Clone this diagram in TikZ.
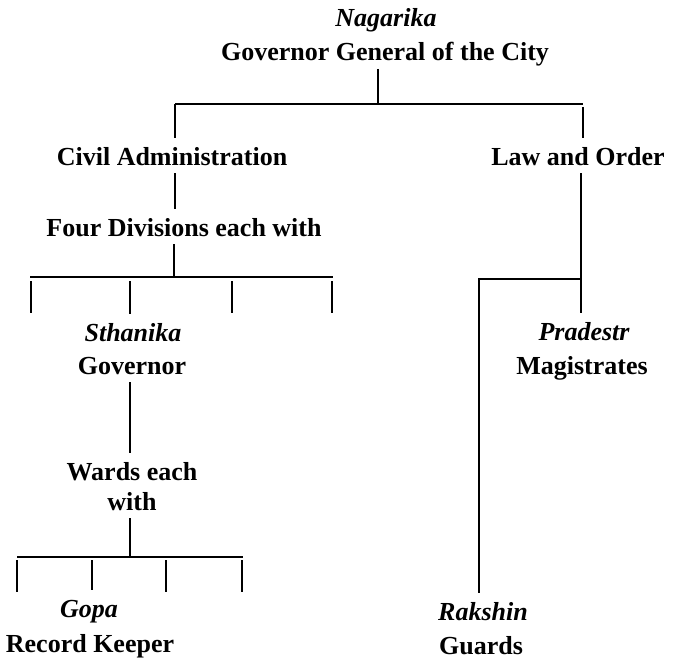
\documentclass[tikz,border=0pt]{standalone}
\usepackage{fontspec}
\setmainfont{Liberation Serif}
\begin{document}
\begin{tikzpicture}[x=1pt,y=-1pt,
  lbl/.style={font=\fontsize{26}{30}\selectfont\bfseries, anchor=base,
    inner sep=1pt, outer sep=1pt, text height=25pt, text depth=6pt},
  ilbl/.style={lbl, font=\fontsize{26}{30}\selectfont\bfseries\itshape},
  conn/.style={line width=2.2pt, line cap=butt}]
\useasboundingbox (0,0) rectangle (678,661);
\fill[white] (0,0) rectangle (678,661);
% labels
\node[ilbl] (nag) at (386,27) {Nagarika};
\node[lbl] (ggc) at (385,61) {Governor General of the City};
\node[lbl] (civ) at (172,165) {Civil Administration};
\node[lbl] (law) at (578,165) {Law and Order};
\node[lbl] (four) at (184,236) {Four Divisions each with};
\node[ilbl] (sth) at (133,341) {Sthanika};
\node[lbl] (gov) at (132,374) {Governor};
\node[lbl] (wards) at (132,480) {Wards each};
\node[lbl] (with) at (132,510) {with};
\node[ilbl] (gopa) at (89,617) {Gopa};
\node[lbl] (rec) at (90,652) {Record Keeper};
\node[ilbl] (prad) at (584,340) {Pradestr};
\node[lbl] (mag) at (582,374) {Magistrates};
\node[ilbl] (rak) at (483,620) {Rakshin};
\node[lbl] (grd) at (481,654) {Guards};
% junction coordinates
\coordinate (j1) at (378,104);
\coordinate (jl) at (175,104);
\coordinate (jr) at (583,104);
\coordinate (j2) at (174,277);
\coordinate (j2a) at (30,277);
\coordinate (j2b) at (333,277);
\coordinate (t1) at (31,313);
\coordinate (t3) at (232,313);
\coordinate (t4) at (332,313);
\coordinate (j3) at (581,279);
\coordinate (j3l) at (479,279);
\coordinate (j4) at (130,557);
\coordinate (j4a) at (17,557);
\coordinate (j4b) at (243,557);
\coordinate (u1) at (17,592);
\coordinate (u3) at (166,592);
\coordinate (u4) at (242,592);
% top tree
\draw[conn] (j1 |- ggc.south) -- (j1);
\draw[conn] (jl) -- (jr);
\draw[conn] (jl) -- (jl |- civ.north);
\draw[conn] ([yshift=-3pt]jr) -- (jr |- law.north);
% civil branch
\draw[conn] (jl |- civ.south) -- (jl |- four.north);
\draw[conn] (j2 |- four.south) -- (j2);
\draw[conn] (j2a) -- (j2b);
\draw[conn] ([yshift=-4pt]t1 |- j2) -- (t1);
\draw[conn] ([yshift=-4pt]130,277) -- (130,313 |- sth.north);
\draw[conn] ([yshift=-4pt]t3 |- j2) -- (t3);
\draw[conn] ([yshift=-4pt]t4 |- j2) -- (t4);
\draw[conn] (130,0 |- gov.south) -- (130,0 |- wards.north);
\draw[conn] (j4 |- with.south) -- (j4);
\draw[conn] (j4a) -- (j4b);
\draw[conn] ([yshift=-3pt]u1 |- j4) -- (u1);
\draw[conn] ([yshift=-3pt]92,557) -- (92,0 |- gopa.north);
\draw[conn] ([yshift=-3pt]u3 |- j4) -- (u3);
\draw[conn] ([yshift=-3pt]u4 |- j4) -- (u4);
% law branch
\draw[conn] (j3 |- law.south) -- (j3 |- prad.north);
\draw[conn] (j3) -- (j3l) -- (j3l |- rak.north);
\end{tikzpicture}
\end{document}
